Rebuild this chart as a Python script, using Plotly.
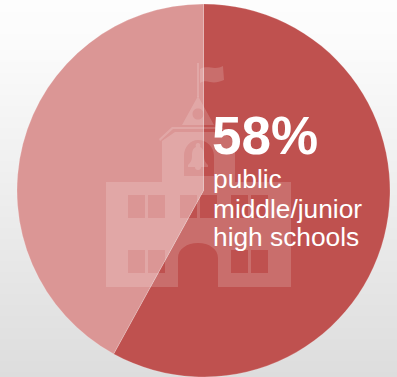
import plotly.graph_objects as go

# School survey share
slice_labels = ["public middle/junior high schools", "other schools"]
slice_values = [58, 42]
slice_colors = ["#BF514F", "#DB9695"]

headline = "58%"
caption_lines = ["public", "middle/junior", "high schools"]

# Page backdrop, top to bottom
backdrop_greys = [253, 252, 251, 249, 247, 245, 243, 241, 239, 237, 235, 233, 231, 229, 227, 225, 223, 221]

WIDTH, HEIGHT = 397, 377
PIE_TOP, PIE_LEFT, PIE_DIAMETER = 4, 16.5, 374

ICON_FILL = "rgba(255,255,255,0.17)"


def rect(x0, y0, x1, y1):
    return f"M{x0},{y0} L{x1},{y0} L{x1},{y1} L{x0},{y1} Z "


# Building outline with the door notch cut out of the base
building = (
    "M106,182 L162,182 L162,141 L175,132 L222,132 L235,141 L235,182 L291,182 L291,287 "
    "L218,287 L218,258 C218,249 209,243 198,243 C187,243 178,249 178,258 L178,287 L106,287 Z "
)
# Thin eave running above the tower
eave = "M159,139 L172,127 L221,127 L238,139 L237,141 L221,129 L173,129 L160,141 Z"
# Window panes, punched through the building
pane_columns = [(128, 145), (148, 165), (231, 248), (251, 268)]
upper_middle = [(180, 197), (200, 217)]
panes = "".join(rect(a, 195, b, 218) for a, b in pane_columns + upper_middle)
panes += "".join(rect(a, 250, b, 273) for a, b in pane_columns)
# Belfry opening
belfry = "M184,176 L184,156 C184,147 190,140 198,140 C207,140 214,147 214,156 L214,176 Z "
# Bell hanging inside the opening
bell = (
    "M198,143 C200,143 201,145 200,147 C203,148 204,151 204,156 C204,161 206,163 208,165 "
    "L208,167 L201,167 C201,169 200,170 198,170 C196,170 195,169 195,167 L188,167 "
    "L188,165 C190,163 192,161 192,156 C192,151 193,148 196,147 C195,145 196,143 198,143 Z"
)
# Gable with its round vent
vent = "M192.5,114 C192.5,110.5 195,108.5 198,108.5 C201,108.5 203.5,110.5 203.5,114 C203.5,117.5 201,119.5 198,119.5 C195,119.5 192.5,117.5 192.5,114 Z "
gable = "M198,96 L214,125 L182,125 Z " + vent
pole = "M197,63 L199,63 L199,97 L197,97 Z"
flag = "M200,69 C206,66 210,68 215,68 C218,68 221,67 223,66 L224,80 C219,82 215,83 210,82 C206,81 203,81 200,83 Z"

icon_paths = [building + panes + belfry, eave, bell, gable, pole, flag]

fig = go.Figure()

fig.add_trace(
    go.Heatmap(
        z=[[g, g] for g in backdrop_greys],
        x=[0, WIDTH],
        y=[HEIGHT * i / (len(backdrop_greys) - 1) for i in range(len(backdrop_greys))],
        colorscale=[[0, "rgb(221,221,221)"], [1, "rgb(253,253,253)"]],
        zmin=221,
        zmax=253,
        zsmooth="best",
        showscale=False,
        hoverinfo="skip",
    )
)

fig.add_trace(
    go.Pie(
        labels=slice_labels,
        values=slice_values,
        sort=False,
        direction="clockwise",
        rotation=0,
        textinfo="none",
        hoverinfo="label+percent",
        marker=dict(colors=slice_colors, line=dict(color="rgba(255,255,255,0.2)", width=1)),
        domain=dict(
            x=[PIE_LEFT / WIDTH, (PIE_LEFT + PIE_DIAMETER) / WIDTH],
            y=[max(0, (HEIGHT - PIE_TOP - PIE_DIAMETER) / HEIGHT), (HEIGHT - PIE_TOP) / HEIGHT],
        ),
        showlegend=False,
    )
)

fig.update_layout(
    width=WIDTH,
    height=HEIGHT,
    margin=dict(l=0, r=0, t=0, b=0),
    paper_bgcolor="#eeeeee",
    plot_bgcolor="rgba(0,0,0,0)",
    xaxis=dict(range=[0, WIDTH], visible=False, fixedrange=True),
    yaxis=dict(range=[HEIGHT, 0], visible=False, fixedrange=True),
    shapes=[
        dict(type="path", path=p, xref="x", yref="y", fillcolor=ICON_FILL, line=dict(width=0), layer="above")
        for p in icon_paths
    ],
)

font = "Liberation Sans, Arial, sans-serif"
fig.add_annotation(
    x=210, y=135, xref="x", yref="y", xanchor="left", yanchor="middle", text=f"<b>{headline}</b>",
    showarrow=False, font=dict(family=font, size=53, color="white"),
)
for line, y in zip(caption_lines, [179, 208.5, 237]):
    fig.add_annotation(
        x=210.5, y=y, xref="x", yref="y", xanchor="left", yanchor="middle", text=line,
        showarrow=False, font=dict(family=font, size=26.3, color="white"),
    )

fig.write_html("out.html", config=dict(displayModeBar=False))
